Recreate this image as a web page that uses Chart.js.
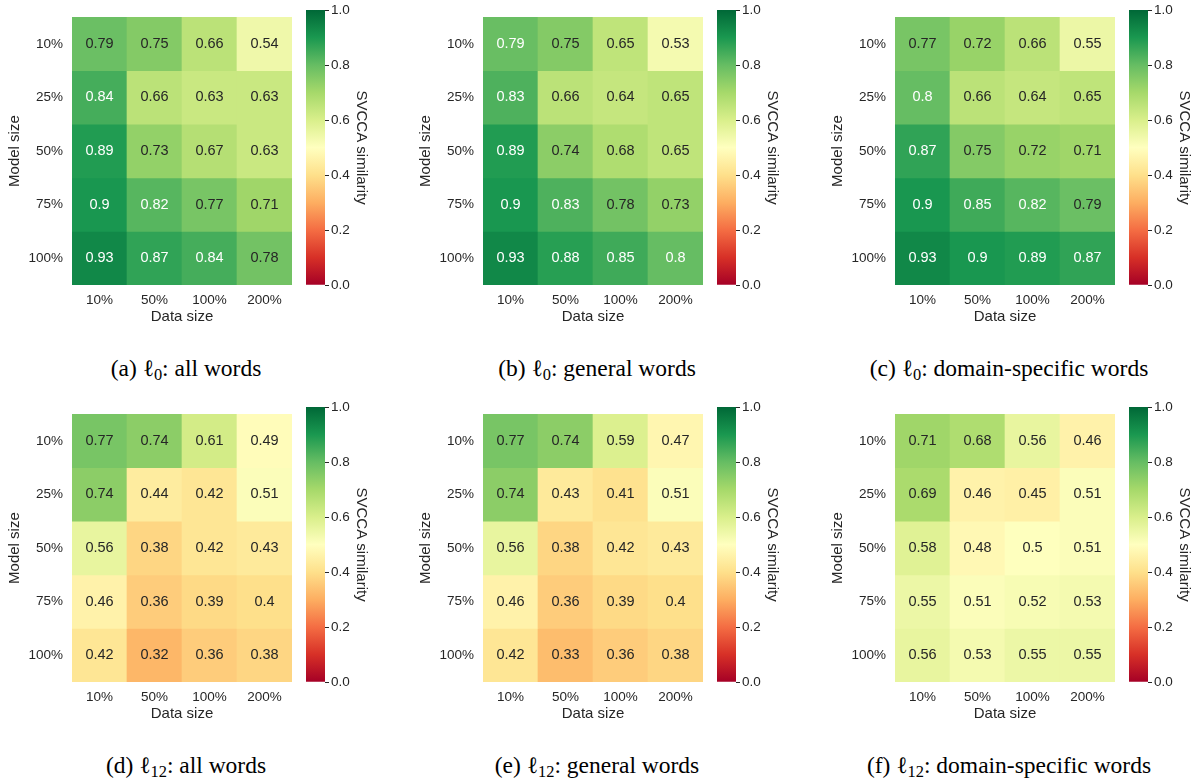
<!DOCTYPE html>
<html>
<head>
<meta charset="utf-8">
<script src="https://cdn.jsdelivr.net/npm/chart.js@4.4.1/dist/chart.umd.min.js"></script>
<style>
  html, body { margin: 0; padding: 0; background: #ffffff; }
  #page { position: relative; width: 1199px; height: 783px; overflow: hidden; background: #ffffff; }
  .box { position: absolute; }
  .cap { position: absolute; width: 400px; text-align: center; font-family: "Liberation Serif", "DejaVu Serif", serif; font-size: 23.5px; line-height: 28px; color: #000; white-space: nowrap; }
  .cap sub { font-size: 0.7em; vertical-align: -0.25em; line-height: 0; }
</style>
</head>
<body>
<div id="page"></div>
<script>
// ---------------- data ----------------
const dataSizes  = ['10%', '50%', '100%', '200%'];
const modelSizes = ['10%', '25%', '50%', '75%', '100%'];

const simL0All = [
  [0.79, 0.75, 0.66, 0.54],
  [0.84, 0.66, 0.63, 0.63],
  [0.89, 0.73, 0.67, 0.63],
  [0.90, 0.82, 0.77, 0.71],
  [0.93, 0.87, 0.84, 0.78]
];
const simL0General = [
  [0.794, 0.75, 0.65, 0.53],
  [0.83, 0.66, 0.64, 0.65],
  [0.89, 0.74, 0.68, 0.65],
  [0.90, 0.83, 0.78, 0.73],
  [0.93, 0.88, 0.85, 0.80]
];
const simL0Domain = [
  [0.77, 0.72, 0.66, 0.55],
  [0.80, 0.66, 0.64, 0.65],
  [0.87, 0.75, 0.72, 0.71],
  [0.90, 0.85, 0.82, 0.79],
  [0.93, 0.90, 0.89, 0.87]
];
const simL12All = [
  [0.77, 0.74, 0.61, 0.49],
  [0.74, 0.44, 0.42, 0.51],
  [0.56, 0.38, 0.42, 0.43],
  [0.46, 0.36, 0.39, 0.40],
  [0.42, 0.32, 0.36, 0.38]
];
const simL12General = [
  [0.77, 0.74, 0.59, 0.47],
  [0.74, 0.43, 0.41, 0.51],
  [0.56, 0.38, 0.42, 0.43],
  [0.46, 0.36, 0.39, 0.40],
  [0.42, 0.33, 0.36, 0.38]
];
const simL12Domain = [
  [0.71, 0.68, 0.56, 0.46],
  [0.69, 0.46, 0.45, 0.51],
  [0.58, 0.48, 0.50, 0.51],
  [0.55, 0.51, 0.52, 0.53],
  [0.56, 0.53, 0.55, 0.55]
];

const colorbarMin = 0, colorbarMax = 1, colorbarStep = 0.2;

const captionTags   = ['(a)', '(b)', '(c)', '(d)', '(e)', '(f)'];
const captionLayers = ['0', '0', '0', '12', '12', '12'];
const captionWords  = ['all words', 'general words', 'domain-specific words',
                       'all words', 'general words', 'domain-specific words'];

const panelValues = [simL0All, simL0General, simL0Domain, simL12All, simL12General, simL12Domain];

// ---------------- style ----------------
const RDYLGN = ['#a50026','#d73027','#f46d43','#fdae61','#fee08b','#ffffbf',
                '#d9ef8b','#a6d96a','#66bd63','#1a9850','#006837'];
const TEXT = '#262626';
const SANS = '"Liberation Sans", Arial, "DejaVu Sans", sans-serif';
const COLX = [0, 411, 823];
const ROWY = [0, 397];

function hexRgb(h) { return [1,3,5].map(i => parseInt(h.substr(i, 2), 16)); }
const STOPS = RDYLGN.map(hexRgb);
function cmapRgb(v) {
  let t = (v - colorbarMin) / (colorbarMax - colorbarMin);
  let idx = Math.min(255, Math.max(0, Math.floor(t * 256)));
  t = idx / 255;
  const p = t * 10, i = Math.min(9, Math.floor(p)), f = p - i;
  return STOPS[i].map((c, k) => c + (STOPS[i + 1][k] - c) * f);
}
function cmap(v) { const c = cmapRgb(v); return `rgb(${c.map(Math.round).join(',')})`; }
function luminance(v) {
  const c = cmapRgb(v).map(x => { x /= 255; return x <= 0.03928 ? x / 12.92 : Math.pow((x + 0.055) / 1.055, 2.4); });
  return 0.2126 * c[0] + 0.7152 * c[1] + 0.0722 * c[2];
}
function fmt(v) { return String(Number(v.toPrecision(2))); }

const annotPlugin = {
  id: 'annot',
  afterDatasetsDraw(chart) {
    const c = chart.ctx;
    c.save();
    c.font = `14.5px ${SANS}`;
    c.textAlign = 'center';
    c.textBaseline = 'middle';
    chart.data.datasets.forEach((ds, r) => {
      const meta = chart.getDatasetMeta(r);
      meta.data.forEach((bar, j) => {
        const v = ds.values[j];
        c.fillStyle = luminance(v) > 0.408 ? TEXT : '#ffffff';
        c.fillText(fmt(v), bar.x, (bar.y + bar.base) / 2);
      });
    });
    c.restore();
  }
};

function addCanvas(left, top, w, h) {
  const d = document.createElement('div');
  d.className = 'box';
  d.style.left = left + 'px'; d.style.top = top + 'px';
  d.style.width = w + 'px'; d.style.height = h + 'px';
  const cv = document.createElement('canvas');
  cv.width = w; cv.height = h;
  cv.style.width = w + 'px'; cv.style.height = h + 'px';
  d.appendChild(cv);
  document.getElementById('page').appendChild(d);
  return cv;
}

function makePanel(k) {
  const px = COLX[k % 3], py = ROWY[Math.floor(k / 3)];
  const values = panelValues[k];

  // heatmap
  const hc = addCanvas(px, py, 300, 330);
  new Chart(hc, {
    type: 'bar',
    data: {
      labels: dataSizes,
      datasets: modelSizes.map((m, r) => ({
        label: m,
        values: values[r],
        data: dataSizes.map(() => [r, r + 1]),
        backgroundColor: values[r].map(cmap),
        borderWidth: 0,
        barPercentage: 1,
        categoryPercentage: 1,
        grouped: false
      }))
    },
    options: {
      responsive: false,
      animation: false,
      events: [],
      layout: { padding: { top: 10, right: 8, left: 0, bottom: 0 } },
      plugins: { legend: { display: false }, tooltip: { enabled: false } },
      scales: {
        x: {
          type: 'category',
          offset: true,
          grid: { display: false, drawTicks: false },
          border: { display: false },
          ticks: { color: TEXT, font: { family: SANS, size: 13.5 }, padding: 7, maxRotation: 0 },
          title: { display: true, text: 'Data size', color: TEXT, font: { family: SANS, size: 15 }, padding: { top: 0, bottom: 4 } },
          afterFit: s => { s.height = 45; }
        },
        y: {
          type: 'linear',
          min: 0, max: modelSizes.length,
          reverse: true,
          grid: { display: false, drawTicks: false },
          border: { display: false },
          afterBuildTicks: s => { s.ticks = modelSizes.map((_, i) => ({ value: i + 0.5 })); },
          ticks: { callback: (v, i) => modelSizes[i], color: TEXT, font: { family: SANS, size: 13.5 }, padding: 9, autoSkip: false },
          title: { display: true, text: 'Model size', color: TEXT, font: { family: SANS, size: 15 }, padding: { top: 6, bottom: 0 } },
          afterFit: s => { s.width = 72; }
        }
      }
    },
    plugins: [annotPlugin]
  });

  // colorbar
  const cc = addCanvas(px + 300, py, 75, 330);
  new Chart(cc, {
    type: 'bar',
    data: {
      labels: [''],
      datasets: [{
        data: [[colorbarMin, colorbarMax]],
        backgroundColor: (ctx) => {
          const ca = ctx.chart.chartArea;
          if (!ca) return '#ffffff';
          const g = ctx.chart.ctx.createLinearGradient(0, ca.bottom, 0, ca.top);
          RDYLGN.forEach((col, i) => g.addColorStop(i / (RDYLGN.length - 1), col));
          return g;
        },
        borderWidth: 0,
        barPercentage: 1,
        categoryPercentage: 1
      }]
    },
    options: {
      responsive: false,
      animation: false,
      events: [],
      layout: { padding: { top: 10, right: 0, left: 6, bottom: 45 } },
      plugins: { legend: { display: false }, tooltip: { enabled: false } },
      scales: {
        x: { display: false },
        y: {
          position: 'right',
          min: colorbarMin, max: colorbarMax,
          grid: { display: true, drawOnChartArea: false, drawTicks: true, tickLength: 4, tickColor: TEXT, color: TEXT, lineWidth: 1 },
          border: { display: false },
          ticks: { stepSize: colorbarStep, callback: v => v.toFixed(1), color: TEXT, font: { family: SANS, size: 13.5 }, padding: 2 },
          title: { display: true, text: 'SVCCA similarity', color: TEXT, font: { family: SANS, size: 15 }, padding: { top: 5, bottom: 0 } },
          afterFit: s => { s.width = 50; }
        }
      }
    }
  });

  // caption
  const cap = document.createElement('div');
  cap.className = 'cap';
  cap.style.left = (px + 186 - 200) + 'px';
  cap.style.top = (py + 354) + 'px';
  cap.innerHTML = `${captionTags[k]} <span>ℓ</span><sub>${captionLayers[k]}</sub>: ${captionWords[k]}`;
  document.getElementById('page').appendChild(cap);
}

for (let k = 0; k < 6; k++) makePanel(k);
</script>
</body>
</html>
